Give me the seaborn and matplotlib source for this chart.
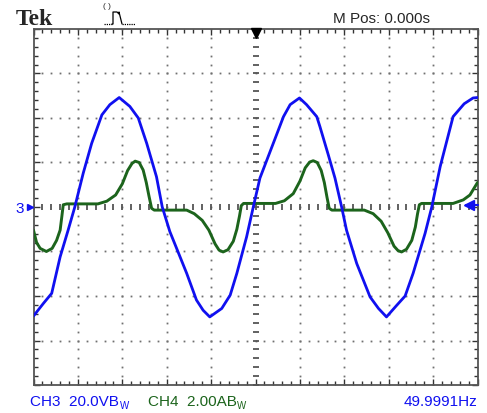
import numpy as np
import pandas as pd
import matplotlib
matplotlib.use("Agg")
import matplotlib.pyplot as plt
import seaborn as sns

# Scope readings, in screen divisions (10 x 8 graticule, M Pos 0 at centre)
t_ch3 = [0.00, 0.22, 0.41, 0.60, 0.78, 0.93, 1.12, 1.31, 1.54, 1.72, 1.93, 2.17, 2.36, 2.55, 2.77, 2.90,
         3.07, 3.45, 3.67, 3.82, 3.97, 4.24, 4.43, 4.58, 4.80, 4.95, 5.10, 5.40, 5.63, 5.78, 5.99, 6.15,
         6.38, 6.45, 6.64, 6.79, 6.94, 7.05, 7.28, 7.58, 7.77, 7.95, 8.18, 8.37, 8.55, 8.82, 8.97, 9.16,
         9.45, 9.70, 9.90, 10.00]
ch3 = [-2.45, -2.17, -1.94, -1.12, -0.52, 0.00, 0.76, 1.43, 2.07, 2.30, 2.46, 2.26, 2.00, 1.43, 0.68, 0.00,
       -0.55, -1.49, -2.09, -2.32, -2.47, -2.28, -1.98, -1.49, -0.67, 0.00, 0.65, 1.43, 2.03, 2.30, 2.45, 2.30,
       2.03, 1.81, 1.17, 0.65, 0.00, -0.52, -1.27, -2.02, -2.28, -2.47, -2.21, -2.00, -1.49, -0.59, 0.00, 0.91,
       2.03, 2.32, 2.45, 2.46]

t_ch4 = [0.00, 0.07, 0.15, 0.29, 0.42, 0.52, 0.60, 0.64, 0.67, 0.75, 1.45, 1.65, 1.85, 2.00, 2.12, 2.22,
         2.29, 2.38, 2.47, 2.54, 2.60, 2.66, 2.72, 3.45, 3.62, 3.80, 3.95, 4.09, 4.18, 4.27, 4.38, 4.50,
         4.58, 4.64, 4.68, 4.73, 5.45, 5.65, 5.85, 6.00, 6.12, 6.22, 6.30, 6.39, 6.48, 6.55, 6.61, 6.66,
         6.72, 7.45, 7.65, 7.83, 7.98, 8.12, 8.21, 8.29, 8.40, 8.52, 8.60, 8.65, 8.69, 8.74, 9.45, 9.68,
         9.83, 10.00]
ch4 = [-0.52, -0.80, -0.93, -1.00, -0.93, -0.75, -0.52, -0.20, 0.05, 0.07, 0.07, 0.13, 0.27, 0.52, 0.82, 0.98,
       1.03, 1.00, 0.83, 0.55, 0.25, -0.03, -0.07, -0.07, -0.15, -0.30, -0.52, -0.83, -0.97, -1.01, -0.96, -0.77,
       -0.50, -0.20, 0.03, 0.08, 0.08, 0.14, 0.30, 0.58, 0.88, 1.01, 1.04, 1.00, 0.82, 0.55, 0.22, -0.03,
       -0.07, -0.07, -0.15, -0.32, -0.58, -0.88, -0.98, -1.01, -0.95, -0.75, -0.45, -0.15, 0.05, 0.08, 0.08, 0.16,
       0.27, 0.55]

ch3_label = ["CH3  20.0VB", "W"]
ch4_label = ["CH4  2.00AB", "W"]
freq_label = "49.9991Hz"
mpos_label = "M Pos: 0.000s"

BLUE = "#1010f0"
GREEN = "#1c641c"
W, H = 487, 413

sns.set_style("white")
plt.rcParams["font.family"] = ["Liberation Sans", "DejaVu Sans"]

fig = plt.figure(figsize=(W / 100, H / 100), dpi=100)
ax = fig.add_axes([33.5 / W, 1 - 385 / H, 444 / W, 356 / H])
ax.set_xlim(0, 10)
ax.set_ylim(-4, 4)

def px(x, y):
    return x / W, 1 - y / H

# graticule dots
sub = np.round(np.arange(0, 10.01, 0.2), 2)
suby = np.round(np.arange(-4, 4.01, 0.2), 2)
for gx in [1, 2, 3, 4, 6, 7, 8, 9]:
    ax.plot([gx] * len(suby), suby, ls="none", marker="s", ms=1.3, mew=0, color="#707070", zorder=1)
for gy in [-3, -2, -1, 1, 2, 3]:
    ax.plot(sub, [gy] * len(sub), ls="none", marker="s", ms=1.3, mew=0, color="#707070", zorder=1)
ax.plot([5] * len(suby), suby, ls="none", marker="_", ms=5, mew=1.3, color="#555555", zorder=1)
ax.plot(sub, [0] * len(sub), ls="none", marker="|", ms=5, mew=1.3, color="#555555", zorder=1)

ax.set_xticks(range(11))
ax.set_yticks(range(-4, 5))
ax.set_xticks(sub, minor=True)
ax.set_yticks(suby, minor=True)
ax.tick_params(which="both", direction="in", top=True, right=True, bottom=True, left=True,
               labelbottom=False, labelleft=False, color="#333333", width=1)
ax.tick_params(which="major", length=4)
ax.tick_params(which="minor", length=3)
for s in ax.spines.values():
    s.set_color("#555555")
    s.set_linewidth(1.3)

df3 = pd.DataFrame({"t": t_ch3, "v": ch3})
df4 = pd.DataFrame({"t": t_ch4, "v": ch4})
sns.lineplot(data=df4, x="t", y="v", color=GREEN, lw=2.1, sort=False, ax=ax, zorder=3)
sns.lineplot(data=df3, x="t", y="v", color=BLUE, lw=2.0, sort=False, ax=ax, zorder=4)
ax.set_xlabel("")
ax.set_ylabel("")

# markers: trigger position, ground level, trigger level
ax.plot([5], [3.92], marker="v", ms=7, color="black", clip_on=False, zorder=6)
ax.plot([-0.08], [0.0], marker=">", ms=5, color=BLUE, clip_on=False, zorder=6)
ax.plot([9.75, 10.0], [0.05, 0.05], color=BLUE, lw=1.5, clip_on=False, zorder=6)
ax.plot([9.8], [0.05], marker="<", ms=7, color=BLUE, clip_on=False, zorder=6)
fig.text(*px(15, 213), "3", color=BLUE, fontsize=11)

# header
fig.text(*px(16, 25), "Tek", family=["Liberation Serif"], fontweight="bold", fontsize=17)
fig.text(*px(333, 23), mpos_label, fontsize=11)
fig.text(*px(103, 8), "( )", fontsize=6)
fig.lines.append(plt.Line2D([104 / W, 112 / W], [1 - 24 / H, 1 - 24 / H],
                            transform=fig.transFigure, color="black", lw=0.9, ls=(0, (1, 0.8))))
fig.lines.append(plt.Line2D([122 / W, 135 / W], [1 - 24 / H, 1 - 24 / H],
                            transform=fig.transFigure, color="black", lw=0.9, ls=(0, (1, 0.8))))
fig.lines.append(plt.Line2D([112 / W, 113 / W, 113 / W, 117 / W, 119 / W, 119 / W, 122 / W],
                            [1 - 24 / H, 1 - 24 / H, 1 - 12 / H, 1 - 12 / H, 1 - 14 / H, 1 - 12 / H, 1 - 24 / H],
                            transform=fig.transFigure, color="black", lw=0.9))

# footer
fig.text(*px(30, 406), ch3_label[0], color=BLUE, fontsize=11)
fig.text(*px(120, 409), ch3_label[1], color=BLUE, fontsize=7)
fig.text(*px(148, 406), ch4_label[0], color=GREEN, fontsize=11)
fig.text(*px(237, 409), ch4_label[1], color=GREEN, fontsize=7)
fig.text(*px(477, 406), freq_label, color=BLUE, fontsize=11, ha="right")

fig.savefig("out.png", dpi=100, facecolor="white")
